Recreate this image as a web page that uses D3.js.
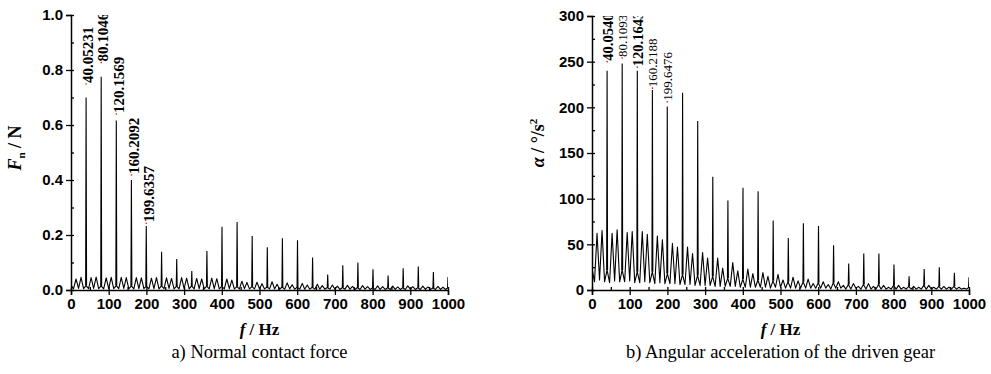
<!DOCTYPE html>
<html>
<head>
<meta charset="utf-8">
<script src="https://cdn.jsdelivr.net/npm/d3@7"></script>
<style>
	body { margin: 0; background: #fff; }
	svg { display: block; font-family: "Liberation Serif", "Times New Roman", serif; }
	.domain { stroke: #000; stroke-width: 1.5px; }
	.tick line { stroke: #000; stroke-width: 1.3px; }
	.ticklab text { font-size: 15px; font-weight: bold; fill: #000; }
</style>
</head>
<body>
<div id="svg_container"></div>
<script>
/* -----------------------
data
------------------------- */

// background ripple, sampled every 20/3 Hz from 0 to 1000 Hz
var rippleStep = 20 / 3;

var forceRipple = [
	0.018, 0.004, 0.040, 0.006, 0.046, 0.005,
	0.016, 0.005, 0.045, 0.006, 0.047, 0.005,
	0.015, 0.004, 0.044, 0.005, 0.046, 0.005,
	0.016, 0.005, 0.046, 0.006, 0.045, 0.004,
	0.015, 0.004, 0.045, 0.005, 0.044, 0.005,
	0.014, 0.004, 0.043, 0.005, 0.045, 0.004,
	0.015, 0.005, 0.044, 0.006, 0.042, 0.004,
	0.014, 0.004, 0.045, 0.005, 0.043, 0.004,
	0.015, 0.004, 0.042, 0.005, 0.040, 0.004,
	0.014, 0.004, 0.043, 0.005, 0.041, 0.004,
	0.013, 0.004, 0.040, 0.005, 0.036, 0.004,
	0.012, 0.004, 0.032, 0.005, 0.027, 0.004,
	0.012, 0.004, 0.028, 0.004, 0.023, 0.004,
	0.011, 0.004, 0.030, 0.004, 0.021, 0.003,
	0.011, 0.003, 0.026, 0.004, 0.019, 0.003,
	0.010, 0.003, 0.024, 0.003, 0.018, 0.003,
	0.010, 0.003, 0.021, 0.003, 0.016, 0.003,
	0.009, 0.003, 0.018, 0.003, 0.014, 0.002,
	0.009, 0.003, 0.017, 0.003, 0.013, 0.002,
	0.009, 0.002, 0.016, 0.003, 0.012, 0.002,
	0.008, 0.002, 0.015, 0.002, 0.012, 0.002,
	0.008, 0.002, 0.014, 0.002, 0.011, 0.002,
	0.008, 0.002, 0.015, 0.003, 0.012, 0.002,
	0.008, 0.002, 0.014, 0.002, 0.011, 0.002,
	0.007, 0.002, 0.013, 0.002, 0.010, 0.002,
	0.008
];

var accelRipple = [
	24, 9, 62, 11, 65, 9,
	22, 8, 62, 10, 66, 9,
	22, 9, 63, 10, 64, 8,
	20, 8, 64, 9, 61, 8,
	20, 7, 59, 8, 55, 7,
	18, 7, 51, 7, 47, 6,
	17, 6, 47, 6, 40, 5,
	16, 5, 41, 5, 35, 5,
	15, 4, 35, 4, 24, 4,
	13, 4, 30, 4, 21, 3,
	12, 3, 23, 3, 18, 3,
	11, 3, 19, 3, 15, 2,
	10, 3, 17, 3, 11, 2,
	9, 2, 14, 2, 10, 2,
	9, 2, 12, 2, 7, 2,
	8, 2, 9, 2, 6, 1,
	8, 2, 9, 2, 5, 1,
	6, 1, 7, 2, 4, 1,
	6, 1, 7, 1, 4, 1,
	6, 1, 5, 1, 3, 1,
	5, 1, 5, 1, 3, 1,
	4, 1, 4, 1, 3, 1,
	5, 1, 5, 1, 3, 1,
	4, 1, 4, 1, 3, 1,
	4, 1, 3, 1, 2, 1,
	3
];

// mesh frequency harmonics
var peakFreq = [40.05, 80.10, 120.16, 160.21, 199.64, 240.3, 280.4, 320.4, 360.5, 400.5,
	440.6, 480.6, 520.7, 560.7, 600.8, 640.8, 680.9, 720.9, 761.0, 801.0,
	841.1, 881.1, 921.2, 961.2, 1000];

var forcePeaks = [0.700, 0.775, 0.616, 0.400, 0.233, 0.139, 0.113, 0.069, 0.142, 0.230,
	0.247, 0.196, 0.155, 0.188, 0.181, 0.118, 0.056, 0.090, 0.100, 0.075,
	0.053, 0.079, 0.085, 0.065, 0.047];

var accelPeaks = [240, 248, 240, 219, 201, 216, 185, 124, 98, 112,
	108, 76, 57, 73, 70, 49, 29, 40, 40, 28,
	15, 23, 25, 19, 14];

// peak annotations
var forceLabels = ["40.05231", "80.1046", "120.1569", "160.2092", "199.6357"];
var forceLabelAt = [0.749, 0.827, 0.640, 0.418, 0.243];
var accelLabels = ["40.0540", "80.1093", "120.1643", "160.2188", "199.6476"];
var accelLabelAt = [250, 254, 244, 221, 206];
var accelLabelBold = [true, false, true, false, false];

// ticks
var freqTicks = [0, 100, 200, 300, 400, 500, 600, 700, 800, 900, 1000];
var freqMinor = [50, 150, 250, 350, 450, 550, 650, 750, 850, 950];
var forceTicks = [0, 0.2, 0.4, 0.6, 0.8, 1.0];
var forceMinor = [0.1, 0.3, 0.5, 0.7, 0.9];
var accelTicks = [0, 50, 100, 150, 200, 250, 300];
var accelMinor = [25, 75, 125, 175, 225, 275];

/* -----------------------
main variables
------------------------- */

var width = 991;
var height = 374;
var spikeHalf = 1.2; // Hz

var svg = d3.select("#svg_container")
	.append("svg")
	.attr("width", width)
	.attr("height", height)
	.attr("viewBox", '0 0 ' + width + ' ' + height);

svg.append("rect").attr("width", width).attr("height", height).attr("fill", "#fff");

/* -----------------------
panel
------------------------- */

function drawPanel(p) {

	var x = d3.scaleLinear().domain([0, 1000]).range([p.left, p.right]);
	var y = d3.scaleLinear().domain(p.yDomain).range([p.bottom, p.top]);

	svg.append("clipPath")
		.attr("id", p.id + "_clip")
		.append("rect")
		.attr("x", p.left)
		.attr("y", p.top)
		.attr("width", p.right - p.left)
		.attr("height", p.bottom - p.top);

	var plot = svg.append("g")
		.attr("clip-path", "url(#" + p.id + "_clip)");

	var line = d3.line()
		.x(function(d) { return x(d[0]); })
		.y(function(d) { return y(d[1]); });

	var ripple = p.ripple.map(function(v, i) { return [i * rippleStep, v]; });

	plot.append("path")
		.datum(ripple)
		.attr("d", line)
		.attr("fill", "none")
		.attr("stroke", "#000")
		.attr("stroke-width", 1.1)
		.attr("stroke-linejoin", "round");

	plot.selectAll(".spike")
		.data(peakFreq)
		.enter()
		.append("path")
		.attr("class", "spike")
		.attr("d", function(f, i) {
			var base = p.ripple[Math.round(f / rippleStep)];
			return line([[f - spikeHalf, base], [f, p.peaks[i]], [f + spikeHalf, base]]);
		})
		.attr("fill", "none")
		.attr("stroke", "#000")
		.attr("stroke-width", 1.1);

	// peak labels
	plot.selectAll(".mark")
		.data(p.labels)
		.enter()
		.append("circle")
		.attr("cx", function(d, i) { return x(peakFreq[i]); })
		.attr("cy", function(d, i) { return y(p.labelAt[i]); })
		.attr("r", 0.8)
		.attr("fill", "#f00");

	plot.selectAll(".plab")
		.data(p.labels)
		.enter()
		.append("text")
		.attr("transform", function(d, i) {
			return "translate(" + (x(peakFreq[i]) + p.labelDx) + "," + (y(p.labelAt[i]) - 1) + ") rotate(-90)";
		})
		.attr("dy", "0.35em")
		.attr("font-size", function(d, i) { return (p.labelBold[i] ? p.labelSize : 13) + "px"; })
		.attr("font-weight", function(d, i) { return p.labelBold[i] ? "bold" : "normal"; })
		.text(function(d) { return d; });

	// axes: major ticks out, all ticks in
	svg.append("g")
		.attr("class", "ticklab")
		.attr("transform", "translate(0," + p.bottom + ")")
		.call(d3.axisBottom(x).tickValues(freqTicks).tickSize(5).tickPadding(3).tickFormat(d3.format("d")));

	svg.append("g")
		.attr("transform", "translate(0," + p.bottom + ")")
		.call(d3.axisTop(x).tickValues(freqTicks.concat(freqMinor)).tickSize(3).tickFormat(""))
		.select(".domain").remove();

	svg.append("g")
		.attr("class", "ticklab")
		.attr("transform", "translate(" + p.left + ",0)")
		.call(d3.axisLeft(y).tickValues(p.yTicks).tickSize(5).tickPadding(3).tickFormat(p.yFormat));

	svg.append("g")
		.attr("transform", "translate(" + p.left + ",0)")
		.call(d3.axisRight(y).tickValues(p.yTicks.concat(p.yMinor)).tickSize(3).tickFormat(""))
		.select(".domain").remove();

	// x title
	var xt = svg.append("text")
		.attr("x", (p.left + p.right) / 2)
		.attr("y", 335)
		.attr("text-anchor", "middle")
		.attr("font-size", "17px")
		.attr("font-weight", "bold");
	xt.append("tspan").attr("font-style", "italic").text("f");
	xt.append("tspan").text(" / Hz");

	// caption
	svg.append("text")
		.attr("x", (p.left + p.right) / 2)
		.attr("y", 358)
		.attr("text-anchor", "middle")
		.attr("font-size", "18.5px")
		.text(p.caption);

	// y title
	var yt = svg.append("text")
		.attr("transform", "translate(" + p.yTitleX + "," + p.yTitleY + ") rotate(-90)")
		.attr("text-anchor", "middle")
		.attr("font-size", "18px")
		.attr("font-weight", "bold");
	p.yTitle(yt);
}

/* -----------------------
draw
------------------------- */

drawPanel({
	id: "force",
	left: 71, right: 448, top: 15, bottom: 290,
	yDomain: [0, 1], yTicks: forceTicks, yMinor: forceMinor, yFormat: d3.format(".1f"),
	ripple: forceRipple, peaks: forcePeaks,
	labels: forceLabels, labelAt: forceLabelAt, labelBold: [true, true, true, true, true],
	labelSize: 15, labelDx: 2,
	caption: "a) Normal contact force",
	yTitleX: 21, yTitleY: 148,
	yTitle: function(t) {
		t.append("tspan").attr("font-style", "italic").text("F");
		t.append("tspan").attr("font-size", "11px").attr("dy", 4).text("n");
		t.append("tspan").attr("dy", -4).text(" / N");
	}
});

drawPanel({
	id: "accel",
	left: 592, right: 969, top: 16, bottom: 290,
	yDomain: [0, 300], yTicks: accelTicks, yMinor: accelMinor, yFormat: d3.format("d"),
	ripple: accelRipple, peaks: accelPeaks,
	labels: accelLabels, labelAt: accelLabelAt, labelBold: accelLabelBold,
	labelSize: 14.5, labelDx: 0.5,
	caption: "b) Angular acceleration of the driven gear",
	yTitleX: 544, yTitleY: 143,
	yTitle: function(t) {
		t.append("tspan").attr("font-style", "italic").text("α");
		t.append("tspan").text(" / °/s");
		t.append("tspan").attr("font-size", "11px").attr("dy", -7).text("2");
	}
});
</script>
</body>
</html>
